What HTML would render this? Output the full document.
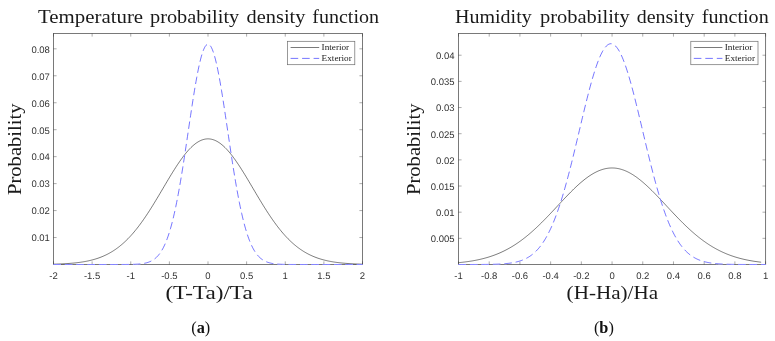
<!DOCTYPE html>
<html><head><meta charset="utf-8"><title>Probability density functions</title>
<style>
html,body{margin:0;padding:0;background:#fff;}
svg{display:block;}
</style></head>
<body>
<svg width="775" height="341" viewBox="0 0 775 341">
<rect width="775" height="341" fill="#fff"/>
<path d="M53.50,264.16 L54.53,264.13 L55.57,264.10 L56.60,264.07 L57.63,264.03 L58.67,263.99 L59.70,263.95 L60.73,263.91 L61.77,263.87 L62.80,263.82 L63.83,263.76 L64.87,263.71 L65.90,263.65 L66.93,263.59 L67.97,263.52 L69.00,263.44 L70.04,263.37 L71.07,263.28 L72.10,263.20 L73.14,263.10 L74.17,263.00 L75.20,262.90 L76.24,262.79 L77.27,262.67 L78.30,262.54 L79.34,262.41 L80.37,262.27 L81.40,262.12 L82.44,261.96 L83.47,261.79 L84.50,261.61 L85.54,261.42 L86.57,261.23 L87.60,261.02 L88.64,260.80 L89.67,260.57 L90.70,260.32 L91.74,260.06 L92.77,259.79 L93.80,259.51 L94.84,259.21 L95.87,258.90 L96.90,258.57 L97.94,258.22 L98.97,257.86 L100.01,257.48 L101.04,257.09 L102.07,256.67 L103.11,256.24 L104.14,255.78 L105.17,255.31 L106.21,254.82 L107.24,254.30 L108.27,253.77 L109.31,253.21 L110.34,252.63 L111.37,252.02 L112.41,251.40 L113.44,250.74 L114.47,250.06 L115.51,249.36 L116.54,248.63 L117.57,247.88 L118.61,247.10 L119.64,246.29 L120.67,245.45 L121.71,244.59 L122.74,243.69 L123.77,242.77 L124.81,241.82 L125.84,240.84 L126.87,239.83 L127.91,238.80 L128.94,237.73 L129.97,236.63 L131.01,235.51 L132.04,234.35 L133.08,233.16 L134.11,231.95 L135.14,230.70 L136.18,229.43 L137.21,228.13 L138.24,226.80 L139.28,225.44 L140.31,224.05 L141.34,222.64 L142.38,221.20 L143.41,219.74 L144.44,218.24 L145.48,216.73 L146.51,215.19 L147.54,213.63 L148.58,212.05 L149.61,210.44 L150.64,208.82 L151.68,207.18 L152.71,205.52 L153.74,203.84 L154.78,202.15 L155.81,200.45 L156.84,198.74 L157.88,197.01 L158.91,195.28 L159.94,193.54 L160.98,191.79 L162.01,190.04 L163.05,188.29 L164.08,186.54 L165.11,184.79 L166.15,183.05 L167.18,181.31 L168.21,179.57 L169.25,177.85 L170.28,176.14 L171.31,174.44 L172.35,172.76 L173.38,171.10 L174.41,169.46 L175.45,167.84 L176.48,166.24 L177.51,164.67 L178.55,163.13 L179.58,161.62 L180.61,160.14 L181.65,158.70 L182.68,157.29 L183.71,155.92 L184.75,154.59 L185.78,153.31 L186.81,152.07 L187.85,150.87 L188.88,149.73 L189.91,148.63 L190.95,147.59 L191.98,146.59 L193.02,145.65 L194.05,144.77 L195.08,143.95 L196.12,143.18 L197.15,142.47 L198.18,141.83 L199.22,141.24 L200.25,140.72 L201.28,140.26 L202.32,139.87 L203.35,139.54 L204.38,139.27 L205.42,139.07 L206.45,138.94 L207.48,138.87 L208.52,138.87 L209.55,138.94 L210.58,139.07 L211.62,139.27 L212.65,139.54 L213.68,139.87 L214.72,140.26 L215.75,140.72 L216.78,141.24 L217.82,141.83 L218.85,142.47 L219.88,143.18 L220.92,143.95 L221.95,144.77 L222.98,145.65 L224.02,146.59 L225.05,147.59 L226.09,148.63 L227.12,149.73 L228.15,150.87 L229.19,152.07 L230.22,153.31 L231.25,154.59 L232.29,155.92 L233.32,157.29 L234.35,158.70 L235.39,160.14 L236.42,161.62 L237.45,163.13 L238.49,164.67 L239.52,166.24 L240.55,167.84 L241.59,169.46 L242.62,171.10 L243.65,172.76 L244.69,174.44 L245.72,176.14 L246.75,177.85 L247.79,179.57 L248.82,181.31 L249.85,183.05 L250.89,184.79 L251.92,186.54 L252.95,188.29 L253.99,190.04 L255.02,191.79 L256.06,193.54 L257.09,195.28 L258.12,197.01 L259.16,198.74 L260.19,200.45 L261.22,202.15 L262.26,203.84 L263.29,205.52 L264.32,207.18 L265.36,208.82 L266.39,210.44 L267.42,212.05 L268.46,213.63 L269.49,215.19 L270.52,216.73 L271.56,218.24 L272.59,219.74 L273.62,221.20 L274.66,222.64 L275.69,224.05 L276.72,225.44 L277.76,226.80 L278.79,228.13 L279.82,229.43 L280.86,230.70 L281.89,231.95 L282.92,233.16 L283.96,234.35 L284.99,235.51 L286.03,236.63 L287.06,237.73 L288.09,238.80 L289.13,239.83 L290.16,240.84 L291.19,241.82 L292.23,242.77 L293.26,243.69 L294.29,244.59 L295.33,245.45 L296.36,246.29 L297.39,247.10 L298.43,247.88 L299.46,248.63 L300.49,249.36 L301.53,250.06 L302.56,250.74 L303.59,251.40 L304.63,252.02 L305.66,252.63 L306.69,253.21 L307.73,253.77 L308.76,254.30 L309.79,254.82 L310.83,255.31 L311.86,255.78 L312.89,256.24 L313.93,256.67 L314.96,257.09 L315.99,257.48 L317.03,257.86 L318.06,258.22 L319.10,258.57 L320.13,258.90 L321.16,259.21 L322.20,259.51 L323.23,259.79 L324.26,260.06 L325.30,260.32 L326.33,260.57 L327.36,260.80 L328.40,261.02 L329.43,261.23 L330.46,261.42 L331.50,261.61 L332.53,261.79 L333.56,261.96 L334.60,262.12 L335.63,262.27 L336.66,262.41 L337.70,262.54 L338.73,262.67 L339.76,262.79 L340.80,262.90 L341.83,263.00 L342.86,263.10 L343.90,263.20 L344.93,263.28 L345.96,263.37 L347.00,263.44 L348.03,263.52 L349.07,263.59 L350.10,263.65 L351.13,263.71 L352.17,263.76 L353.20,263.82 L354.23,263.87 L355.27,263.91 L356.30,263.95 L357.33,263.99 L358.37,264.03 L359.40,264.07 L360.43,264.10 L361.47,264.13 L362.50,264.16" fill="none" stroke="#000" stroke-width="0.7" stroke-opacity="0.75"/>
<rect x="53.5" y="33.5" width="309.00" height="231.00" fill="none" stroke="#262626" stroke-width="0.85" stroke-opacity="0.72"/>
<path d="M53.50,264.5 v-3.1 M53.50,33.5 v3.1 M92.12,264.5 v-3.1 M92.12,33.5 v3.1 M130.75,264.5 v-3.1 M130.75,33.5 v3.1 M169.38,264.5 v-3.1 M169.38,33.5 v3.1 M208.00,264.5 v-3.1 M208.00,33.5 v3.1 M246.62,264.5 v-3.1 M246.62,33.5 v3.1 M285.25,264.5 v-3.1 M285.25,33.5 v3.1 M323.88,264.5 v-3.1 M323.88,33.5 v3.1 M362.50,264.5 v-3.1 M362.50,33.5 v3.1 M53.5,237.54 h3.1 M362.5,237.54 h-3.1 M53.5,210.58 h3.1 M362.5,210.58 h-3.1 M53.5,183.62 h3.1 M362.5,183.62 h-3.1 M53.5,156.66 h3.1 M362.5,156.66 h-3.1 M53.5,129.70 h3.1 M362.5,129.70 h-3.1 M53.5,102.74 h3.1 M362.5,102.74 h-3.1 M53.5,75.78 h3.1 M362.5,75.78 h-3.1 M53.5,48.82 h3.1 M362.5,48.82 h-3.1" fill="none" stroke="#262626" stroke-width="0.7" stroke-opacity="0.55"/>
<path d="M53.50,264.50 L54.27,264.50 L55.05,264.50 L55.82,264.50 L56.60,264.50 L57.37,264.50 L58.15,264.50 L58.92,264.50 L59.70,264.50 L60.47,264.50 L61.24,264.50 L62.02,264.50 L62.79,264.50 L63.57,264.50 L64.34,264.50 L65.12,264.50 L65.89,264.50 L66.67,264.50 L67.44,264.50 L68.21,264.50 L68.99,264.50 L69.76,264.50 L70.54,264.50 L71.31,264.50 L72.09,264.50 L72.86,264.50 L73.64,264.50 L74.41,264.50 L75.18,264.50 L75.96,264.50 L76.73,264.50 L77.51,264.50 L78.28,264.50 L79.06,264.50 L79.83,264.50 L80.61,264.50 L81.38,264.50 L82.15,264.50 L82.93,264.50 L83.70,264.50 L84.48,264.50 L85.25,264.50 L86.03,264.50 L86.80,264.50 L87.58,264.50 L88.35,264.50 L89.12,264.50 L89.90,264.50 L90.67,264.50 L91.45,264.50 L92.22,264.50 L93.00,264.50 L93.77,264.50 L94.55,264.50 L95.32,264.50 L96.09,264.50 L96.87,264.50 L97.64,264.50 L98.42,264.50 L99.19,264.50 L99.97,264.50 L100.74,264.50 L101.52,264.50 L102.29,264.50 L103.06,264.50 L103.84,264.50 L104.61,264.50 L105.39,264.50 L106.16,264.50 L106.94,264.50 L107.71,264.50 L108.48,264.50 L109.26,264.50 L110.03,264.50 L110.81,264.50 L111.58,264.50 L112.36,264.50 L113.13,264.50 L113.91,264.50 L114.68,264.50 L115.45,264.50 L116.23,264.50 L117.00,264.49 L117.78,264.49 L118.55,264.49 L119.33,264.49 L120.10,264.49 L120.88,264.49 L121.65,264.49 L122.42,264.48 L123.20,264.48 L123.97,264.48 L124.75,264.47 L125.52,264.47 L126.30,264.46 L127.07,264.45 L127.85,264.44 L128.62,264.43 L129.39,264.42 L130.17,264.41 L130.94,264.40 L131.72,264.38 L132.49,264.36 L133.27,264.33 L134.04,264.31 L134.82,264.28 L135.59,264.24 L136.36,264.20 L137.14,264.16 L137.91,264.11 L138.69,264.05 L139.46,263.98 L140.24,263.91 L141.01,263.82 L141.79,263.72 L142.56,263.62 L143.33,263.49 L144.11,263.36 L144.88,263.20 L145.66,263.03 L146.43,262.83 L147.21,262.62 L147.98,262.38 L148.76,262.11 L149.53,261.81 L150.30,261.48 L151.08,261.11 L151.85,260.71 L152.63,260.26 L153.40,259.77 L154.18,259.23 L154.95,258.64 L155.73,257.99 L156.50,257.28 L157.27,256.50 L158.05,255.66 L158.82,254.74 L159.60,253.74 L160.37,252.65 L161.15,251.48 L161.92,250.22 L162.70,248.86 L163.47,247.39 L164.24,245.81 L165.02,244.12 L165.79,242.31 L166.57,240.38 L167.34,238.32 L168.12,236.13 L168.89,233.81 L169.67,231.34 L170.44,228.73 L171.21,225.98 L171.99,223.08 L172.76,220.02 L173.54,216.82 L174.31,213.47 L175.09,209.96 L175.86,206.30 L176.64,202.49 L177.41,198.54 L178.18,194.44 L178.96,190.20 L179.73,185.83 L180.51,181.33 L181.28,176.70 L182.06,171.97 L182.83,167.13 L183.61,162.19 L184.38,157.17 L185.15,152.07 L185.93,146.92 L186.70,141.72 L187.48,136.49 L188.25,131.24 L189.03,125.99 L189.80,120.75 L190.58,115.55 L191.35,110.40 L192.12,105.32 L192.90,100.32 L193.67,95.43 L194.45,90.66 L195.22,86.03 L196.00,81.56 L196.77,77.27 L197.55,73.17 L198.32,69.29 L199.09,65.64 L199.87,62.23 L200.64,59.08 L201.42,56.20 L202.19,53.61 L202.97,51.31 L203.74,49.33 L204.52,47.66 L205.29,46.31 L206.06,45.30 L206.84,44.62 L207.61,44.28 L208.39,44.28 L209.16,44.62 L209.94,45.30 L210.71,46.31 L211.48,47.66 L212.26,49.33 L213.03,51.31 L213.81,53.61 L214.58,56.20 L215.36,59.08 L216.13,62.23 L216.91,65.64 L217.68,69.29 L218.45,73.17 L219.23,77.27 L220.00,81.56 L220.78,86.03 L221.55,90.66 L222.33,95.43 L223.10,100.32 L223.88,105.32 L224.65,110.40 L225.42,115.55 L226.20,120.75 L226.97,125.99 L227.75,131.24 L228.52,136.49 L229.30,141.72 L230.07,146.92 L230.85,152.07 L231.62,157.17 L232.39,162.19 L233.17,167.13 L233.94,171.97 L234.72,176.70 L235.49,181.33 L236.27,185.83 L237.04,190.20 L237.82,194.44 L238.59,198.54 L239.36,202.49 L240.14,206.30 L240.91,209.96 L241.69,213.47 L242.46,216.82 L243.24,220.02 L244.01,223.08 L244.79,225.98 L245.56,228.73 L246.33,231.34 L247.11,233.81 L247.88,236.13 L248.66,238.32 L249.43,240.38 L250.21,242.31 L250.98,244.12 L251.76,245.81 L252.53,247.39 L253.30,248.86 L254.08,250.22 L254.85,251.48 L255.63,252.65 L256.40,253.74 L257.18,254.74 L257.95,255.66 L258.73,256.50 L259.50,257.28 L260.27,257.99 L261.05,258.64 L261.82,259.23 L262.60,259.77 L263.37,260.26 L264.15,260.71 L264.92,261.11 L265.70,261.48 L266.47,261.81 L267.24,262.11 L268.02,262.38 L268.79,262.62 L269.57,262.83 L270.34,263.03 L271.12,263.20 L271.89,263.36 L272.67,263.49 L273.44,263.62 L274.21,263.72 L274.99,263.82 L275.76,263.91 L276.54,263.98 L277.31,264.05 L278.09,264.11 L278.86,264.16 L279.64,264.20 L280.41,264.24 L281.18,264.28 L281.96,264.31 L282.73,264.33 L283.51,264.36 L284.28,264.38 L285.06,264.40 L285.83,264.41 L286.61,264.42 L287.38,264.43 L288.15,264.44 L288.93,264.45 L289.70,264.46 L290.48,264.47 L291.25,264.47 L292.03,264.48 L292.80,264.48 L293.58,264.48 L294.35,264.49 L295.12,264.49 L295.90,264.49 L296.67,264.49 L297.45,264.49 L298.22,264.49 L299.00,264.49 L299.77,264.50 L300.55,264.50 L301.32,264.50 L302.09,264.50 L302.87,264.50 L303.64,264.50 L304.42,264.50 L305.19,264.50 L305.97,264.50 L306.74,264.50 L307.52,264.50 L308.29,264.50 L309.06,264.50 L309.84,264.50 L310.61,264.50 L311.39,264.50 L312.16,264.50 L312.94,264.50 L313.71,264.50 L314.48,264.50 L315.26,264.50 L316.03,264.50 L316.81,264.50 L317.58,264.50 L318.36,264.50 L319.13,264.50 L319.91,264.50 L320.68,264.50 L321.45,264.50 L322.23,264.50 L323.00,264.50 L323.78,264.50 L324.55,264.50 L325.33,264.50 L326.10,264.50 L326.88,264.50 L327.65,264.50 L328.42,264.50 L329.20,264.50 L329.97,264.50 L330.75,264.50 L331.52,264.50 L332.30,264.50 L333.07,264.50 L333.85,264.50 L334.62,264.50 L335.39,264.50 L336.17,264.50 L336.94,264.50 L337.72,264.50 L338.49,264.50 L339.27,264.50 L340.04,264.50 L340.82,264.50 L341.59,264.50 L342.36,264.50 L343.14,264.50 L343.91,264.50 L344.69,264.50 L345.46,264.50 L346.24,264.50 L347.01,264.50 L347.79,264.50 L348.56,264.50 L349.33,264.50 L350.11,264.50 L350.88,264.50 L351.66,264.50 L352.43,264.50 L353.21,264.50 L353.98,264.50 L354.76,264.50 L355.53,264.50 L356.30,264.50 L357.08,264.50 L357.85,264.50 L358.63,264.50 L359.40,264.50 L360.18,264.50 L360.95,264.50 L361.73,264.50 L362.50,264.50" fill="none" stroke="#fff" stroke-width="1.1" stroke-dasharray="7.47 3.88"/>
<path d="M53.50,264.50 L54.27,264.50 L55.05,264.50 L55.82,264.50 L56.60,264.50 L57.37,264.50 L58.15,264.50 L58.92,264.50 L59.70,264.50 L60.47,264.50 L61.24,264.50 L62.02,264.50 L62.79,264.50 L63.57,264.50 L64.34,264.50 L65.12,264.50 L65.89,264.50 L66.67,264.50 L67.44,264.50 L68.21,264.50 L68.99,264.50 L69.76,264.50 L70.54,264.50 L71.31,264.50 L72.09,264.50 L72.86,264.50 L73.64,264.50 L74.41,264.50 L75.18,264.50 L75.96,264.50 L76.73,264.50 L77.51,264.50 L78.28,264.50 L79.06,264.50 L79.83,264.50 L80.61,264.50 L81.38,264.50 L82.15,264.50 L82.93,264.50 L83.70,264.50 L84.48,264.50 L85.25,264.50 L86.03,264.50 L86.80,264.50 L87.58,264.50 L88.35,264.50 L89.12,264.50 L89.90,264.50 L90.67,264.50 L91.45,264.50 L92.22,264.50 L93.00,264.50 L93.77,264.50 L94.55,264.50 L95.32,264.50 L96.09,264.50 L96.87,264.50 L97.64,264.50 L98.42,264.50 L99.19,264.50 L99.97,264.50 L100.74,264.50 L101.52,264.50 L102.29,264.50 L103.06,264.50 L103.84,264.50 L104.61,264.50 L105.39,264.50 L106.16,264.50 L106.94,264.50 L107.71,264.50 L108.48,264.50 L109.26,264.50 L110.03,264.50 L110.81,264.50 L111.58,264.50 L112.36,264.50 L113.13,264.50 L113.91,264.50 L114.68,264.50 L115.45,264.50 L116.23,264.50 L117.00,264.49 L117.78,264.49 L118.55,264.49 L119.33,264.49 L120.10,264.49 L120.88,264.49 L121.65,264.49 L122.42,264.48 L123.20,264.48 L123.97,264.48 L124.75,264.47 L125.52,264.47 L126.30,264.46 L127.07,264.45 L127.85,264.44 L128.62,264.43 L129.39,264.42 L130.17,264.41 L130.94,264.40 L131.72,264.38 L132.49,264.36 L133.27,264.33 L134.04,264.31 L134.82,264.28 L135.59,264.24 L136.36,264.20 L137.14,264.16 L137.91,264.11 L138.69,264.05 L139.46,263.98 L140.24,263.91 L141.01,263.82 L141.79,263.72 L142.56,263.62 L143.33,263.49 L144.11,263.36 L144.88,263.20 L145.66,263.03 L146.43,262.83 L147.21,262.62 L147.98,262.38 L148.76,262.11 L149.53,261.81 L150.30,261.48 L151.08,261.11 L151.85,260.71 L152.63,260.26 L153.40,259.77 L154.18,259.23 L154.95,258.64 L155.73,257.99 L156.50,257.28 L157.27,256.50 L158.05,255.66 L158.82,254.74 L159.60,253.74 L160.37,252.65 L161.15,251.48 L161.92,250.22 L162.70,248.86 L163.47,247.39 L164.24,245.81 L165.02,244.12 L165.79,242.31 L166.57,240.38 L167.34,238.32 L168.12,236.13 L168.89,233.81 L169.67,231.34 L170.44,228.73 L171.21,225.98 L171.99,223.08 L172.76,220.02 L173.54,216.82 L174.31,213.47 L175.09,209.96 L175.86,206.30 L176.64,202.49 L177.41,198.54 L178.18,194.44 L178.96,190.20 L179.73,185.83 L180.51,181.33 L181.28,176.70 L182.06,171.97 L182.83,167.13 L183.61,162.19 L184.38,157.17 L185.15,152.07 L185.93,146.92 L186.70,141.72 L187.48,136.49 L188.25,131.24 L189.03,125.99 L189.80,120.75 L190.58,115.55 L191.35,110.40 L192.12,105.32 L192.90,100.32 L193.67,95.43 L194.45,90.66 L195.22,86.03 L196.00,81.56 L196.77,77.27 L197.55,73.17 L198.32,69.29 L199.09,65.64 L199.87,62.23 L200.64,59.08 L201.42,56.20 L202.19,53.61 L202.97,51.31 L203.74,49.33 L204.52,47.66 L205.29,46.31 L206.06,45.30 L206.84,44.62 L207.61,44.28 L208.39,44.28 L209.16,44.62 L209.94,45.30 L210.71,46.31 L211.48,47.66 L212.26,49.33 L213.03,51.31 L213.81,53.61 L214.58,56.20 L215.36,59.08 L216.13,62.23 L216.91,65.64 L217.68,69.29 L218.45,73.17 L219.23,77.27 L220.00,81.56 L220.78,86.03 L221.55,90.66 L222.33,95.43 L223.10,100.32 L223.88,105.32 L224.65,110.40 L225.42,115.55 L226.20,120.75 L226.97,125.99 L227.75,131.24 L228.52,136.49 L229.30,141.72 L230.07,146.92 L230.85,152.07 L231.62,157.17 L232.39,162.19 L233.17,167.13 L233.94,171.97 L234.72,176.70 L235.49,181.33 L236.27,185.83 L237.04,190.20 L237.82,194.44 L238.59,198.54 L239.36,202.49 L240.14,206.30 L240.91,209.96 L241.69,213.47 L242.46,216.82 L243.24,220.02 L244.01,223.08 L244.79,225.98 L245.56,228.73 L246.33,231.34 L247.11,233.81 L247.88,236.13 L248.66,238.32 L249.43,240.38 L250.21,242.31 L250.98,244.12 L251.76,245.81 L252.53,247.39 L253.30,248.86 L254.08,250.22 L254.85,251.48 L255.63,252.65 L256.40,253.74 L257.18,254.74 L257.95,255.66 L258.73,256.50 L259.50,257.28 L260.27,257.99 L261.05,258.64 L261.82,259.23 L262.60,259.77 L263.37,260.26 L264.15,260.71 L264.92,261.11 L265.70,261.48 L266.47,261.81 L267.24,262.11 L268.02,262.38 L268.79,262.62 L269.57,262.83 L270.34,263.03 L271.12,263.20 L271.89,263.36 L272.67,263.49 L273.44,263.62 L274.21,263.72 L274.99,263.82 L275.76,263.91 L276.54,263.98 L277.31,264.05 L278.09,264.11 L278.86,264.16 L279.64,264.20 L280.41,264.24 L281.18,264.28 L281.96,264.31 L282.73,264.33 L283.51,264.36 L284.28,264.38 L285.06,264.40 L285.83,264.41 L286.61,264.42 L287.38,264.43 L288.15,264.44 L288.93,264.45 L289.70,264.46 L290.48,264.47 L291.25,264.47 L292.03,264.48 L292.80,264.48 L293.58,264.48 L294.35,264.49 L295.12,264.49 L295.90,264.49 L296.67,264.49 L297.45,264.49 L298.22,264.49 L299.00,264.49 L299.77,264.50 L300.55,264.50 L301.32,264.50 L302.09,264.50 L302.87,264.50 L303.64,264.50 L304.42,264.50 L305.19,264.50 L305.97,264.50 L306.74,264.50 L307.52,264.50 L308.29,264.50 L309.06,264.50 L309.84,264.50 L310.61,264.50 L311.39,264.50 L312.16,264.50 L312.94,264.50 L313.71,264.50 L314.48,264.50 L315.26,264.50 L316.03,264.50 L316.81,264.50 L317.58,264.50 L318.36,264.50 L319.13,264.50 L319.91,264.50 L320.68,264.50 L321.45,264.50 L322.23,264.50 L323.00,264.50 L323.78,264.50 L324.55,264.50 L325.33,264.50 L326.10,264.50 L326.88,264.50 L327.65,264.50 L328.42,264.50 L329.20,264.50 L329.97,264.50 L330.75,264.50 L331.52,264.50 L332.30,264.50 L333.07,264.50 L333.85,264.50 L334.62,264.50 L335.39,264.50 L336.17,264.50 L336.94,264.50 L337.72,264.50 L338.49,264.50 L339.27,264.50 L340.04,264.50 L340.82,264.50 L341.59,264.50 L342.36,264.50 L343.14,264.50 L343.91,264.50 L344.69,264.50 L345.46,264.50 L346.24,264.50 L347.01,264.50 L347.79,264.50 L348.56,264.50 L349.33,264.50 L350.11,264.50 L350.88,264.50 L351.66,264.50 L352.43,264.50 L353.21,264.50 L353.98,264.50 L354.76,264.50 L355.53,264.50 L356.30,264.50 L357.08,264.50 L357.85,264.50 L358.63,264.50 L359.40,264.50 L360.18,264.50 L360.95,264.50 L361.73,264.50 L362.50,264.50" fill="none" stroke="#0000ff" stroke-width="0.75" stroke-opacity="0.72" stroke-dasharray="7.47 3.88"/>
<g font-family="Liberation Sans, Arial, sans-serif" font-size="9.5" fill="#333" style="text-rendering:geometricPrecision">
<text x="53.50" y="279.3" text-anchor="middle">-2</text>
<text x="92.12" y="279.3" text-anchor="middle">-1.5</text>
<text x="130.75" y="279.3" text-anchor="middle">-1</text>
<text x="169.38" y="279.3" text-anchor="middle">-0.5</text>
<text x="208.00" y="279.3" text-anchor="middle">0</text>
<text x="246.62" y="279.3" text-anchor="middle">0.5</text>
<text x="285.25" y="279.3" text-anchor="middle">1</text>
<text x="323.88" y="279.3" text-anchor="middle">1.5</text>
<text x="362.50" y="279.3" text-anchor="middle">2</text>
<text x="49.9" y="241.34" text-anchor="end">0.01</text>
<text x="49.9" y="214.38" text-anchor="end">0.02</text>
<text x="49.9" y="187.42" text-anchor="end">0.03</text>
<text x="49.9" y="160.46" text-anchor="end">0.04</text>
<text x="49.9" y="133.50" text-anchor="end">0.05</text>
<text x="49.9" y="106.54" text-anchor="end">0.06</text>
<text x="49.9" y="79.58" text-anchor="end">0.07</text>
<text x="49.9" y="52.62" text-anchor="end">0.08</text>
</g>
<g font-family="Liberation Serif, Times New Roman, serif" fill="#1a1a1a">
<text x="38.1" y="23.2" font-size="19" textLength="105.0" lengthAdjust="spacingAndGlyphs">Temperature</text>
<text x="150" y="23.2" font-size="19" textLength="89.2" lengthAdjust="spacingAndGlyphs">probability</text>
<text x="246.6" y="23.2" font-size="19" textLength="58.8" lengthAdjust="spacingAndGlyphs">density</text>
<text x="312.3" y="23.2" font-size="19" textLength="66.7" lengthAdjust="spacingAndGlyphs">function</text>
<text x="165.4" y="298.5" font-size="18.3" textLength="87.3" lengthAdjust="spacingAndGlyphs">(T-Ta)/Ta</text>
<text transform="translate(21.2,195) rotate(-90)" font-size="18.3" textLength="91.5" lengthAdjust="spacingAndGlyphs">Probability</text>
<rect x="287.6" y="41.3" width="67.20" height="23.4" fill="#fff" stroke="#262626" stroke-width="0.7" stroke-opacity="0.68"/>
<path d="M290.60,47.5 h28.6" stroke="#000" stroke-width="0.7" stroke-opacity="0.75"/>
<path d="M290.60,58.4 h28.6" stroke="#0000ff" stroke-width="0.75" stroke-opacity="0.72" stroke-dasharray="7.6 3.9"/>
<text x="321.60" y="49.9" font-size="8.4" textLength="27.6" lengthAdjust="spacingAndGlyphs">Interior</text>
<text x="321.60" y="60.7" font-size="8.4" textLength="30.2" lengthAdjust="spacingAndGlyphs">Exterior</text>
<text x="200.80" y="332.7" font-size="16.3" text-anchor="middle" fill="#111">(<tspan font-weight="bold">a</tspan>)</text>
</g>
<path d="M458.50,262.67 L459.51,262.58 L460.52,262.47 L461.54,262.37 L462.55,262.25 L463.56,262.14 L464.57,262.02 L465.59,261.89 L466.60,261.75 L467.61,261.62 L468.62,261.47 L469.63,261.32 L470.65,261.16 L471.66,261.00 L472.67,260.83 L473.68,260.65 L474.70,260.46 L475.71,260.27 L476.72,260.07 L477.73,259.86 L478.74,259.65 L479.76,259.42 L480.77,259.19 L481.78,258.95 L482.79,258.70 L483.80,258.44 L484.82,258.17 L485.83,257.89 L486.84,257.60 L487.85,257.30 L488.87,256.99 L489.88,256.67 L490.89,256.34 L491.90,255.99 L492.91,255.64 L493.93,255.27 L494.94,254.90 L495.95,254.51 L496.96,254.11 L497.98,253.69 L498.99,253.27 L500.00,252.83 L501.01,252.38 L502.02,251.91 L503.04,251.43 L504.05,250.94 L505.06,250.43 L506.07,249.92 L507.09,249.38 L508.10,248.83 L509.11,248.27 L510.12,247.70 L511.13,247.11 L512.15,246.50 L513.16,245.88 L514.17,245.25 L515.18,244.60 L516.20,243.93 L517.21,243.25 L518.22,242.56 L519.23,241.85 L520.24,241.13 L521.26,240.39 L522.27,239.64 L523.28,238.87 L524.29,238.08 L525.31,237.29 L526.32,236.48 L527.33,235.65 L528.34,234.81 L529.35,233.96 L530.37,233.09 L531.38,232.21 L532.39,231.32 L533.40,230.41 L534.41,229.49 L535.43,228.56 L536.44,227.61 L537.45,226.66 L538.46,225.69 L539.48,224.71 L540.49,223.72 L541.50,222.72 L542.51,221.72 L543.52,220.70 L544.54,219.67 L545.55,218.64 L546.56,217.59 L547.57,216.54 L548.59,215.49 L549.60,214.42 L550.61,213.36 L551.62,212.28 L552.63,211.21 L553.65,210.13 L554.66,209.04 L555.67,207.96 L556.68,206.87 L557.70,205.78 L558.71,204.70 L559.72,203.61 L560.73,202.53 L561.74,201.44 L562.76,200.37 L563.77,199.29 L564.78,198.22 L565.79,197.16 L566.81,196.10 L567.82,195.05 L568.83,194.01 L569.84,192.97 L570.85,191.95 L571.87,190.94 L572.88,189.94 L573.89,188.95 L574.90,187.97 L575.91,187.01 L576.93,186.06 L577.94,185.13 L578.95,184.22 L579.96,183.32 L580.98,182.45 L581.99,181.59 L583.00,180.75 L584.01,179.93 L585.02,179.13 L586.04,178.36 L587.05,177.61 L588.06,176.88 L589.07,176.17 L590.09,175.50 L591.10,174.84 L592.11,174.22 L593.12,173.62 L594.13,173.04 L595.15,172.50 L596.16,171.99 L597.17,171.50 L598.18,171.04 L599.20,170.62 L600.21,170.22 L601.22,169.86 L602.23,169.52 L603.24,169.22 L604.26,168.95 L605.27,168.71 L606.28,168.51 L607.29,168.34 L608.31,168.20 L609.32,168.09 L610.33,168.02 L611.34,167.98 L612.35,167.97 L613.37,168.00 L614.38,168.06 L615.39,168.15 L616.40,168.28 L617.42,168.44 L618.43,168.63 L619.44,168.85 L620.45,169.11 L621.46,169.40 L622.48,169.72 L623.49,170.07 L624.50,170.45 L625.51,170.87 L626.52,171.31 L627.54,171.79 L628.55,172.29 L629.56,172.82 L630.57,173.39 L631.59,173.97 L632.60,174.59 L633.61,175.23 L634.62,175.90 L635.63,176.59 L636.65,177.31 L637.66,178.06 L638.67,178.82 L639.68,179.61 L640.70,180.42 L641.71,181.25 L642.72,182.10 L643.73,182.97 L644.74,183.86 L645.76,184.77 L646.77,185.69 L647.78,186.63 L648.79,187.59 L649.81,188.56 L650.82,189.54 L651.83,190.54 L652.84,191.54 L653.85,192.56 L654.87,193.59 L655.88,194.63 L656.89,195.68 L657.90,196.73 L658.92,197.80 L659.93,198.86 L660.94,199.94 L661.95,201.01 L662.96,202.09 L663.98,203.18 L664.99,204.26 L666.00,205.35 L667.01,206.44 L668.02,207.52 L669.04,208.61 L670.05,209.69 L671.06,210.78 L672.07,211.85 L673.09,212.93 L674.10,214.00 L675.11,215.06 L676.12,216.12 L677.13,217.17 L678.15,218.22 L679.16,219.26 L680.17,220.29 L681.18,221.31 L682.20,222.32 L683.21,223.33 L684.22,224.32 L685.23,225.30 L686.24,226.27 L687.26,227.23 L688.27,228.18 L689.28,229.12 L690.29,230.04 L691.31,230.96 L692.32,231.85 L693.33,232.74 L694.34,233.61 L695.35,234.47 L696.37,235.32 L697.38,236.15 L698.39,236.97 L699.40,237.77 L700.42,238.56 L701.43,239.33 L702.44,240.09 L703.45,240.83 L704.46,241.56 L705.48,242.28 L706.49,242.98 L707.50,243.66 L708.51,244.33 L709.52,244.99 L710.54,245.63 L711.55,246.25 L712.56,246.87 L713.57,247.46 L714.59,248.04 L715.60,248.61 L716.61,249.16 L717.62,249.70 L718.63,250.23 L719.65,250.74 L720.66,251.24 L721.67,251.72 L722.68,252.19 L723.70,252.65 L724.71,253.09 L725.72,253.52 L726.73,253.94 L727.74,254.35 L728.76,254.74 L729.77,255.13 L730.78,255.50 L731.79,255.85 L732.81,256.20 L733.82,256.54 L734.83,256.86 L735.84,257.18 L736.85,257.48 L737.87,257.77 L738.88,258.06 L739.89,258.33 L740.90,258.59 L741.92,258.85 L742.93,259.09 L743.94,259.33 L744.95,259.56 L745.96,259.78 L746.98,259.99 L747.99,260.19 L749.00,260.39 L750.01,260.58 L751.03,260.76 L752.04,260.93 L753.05,261.10 L754.06,261.26 L755.07,261.41 L756.09,261.56 L757.10,261.70 L758.11,261.84 L759.12,261.97 L760.13,262.09 L761.15,262.21" fill="none" stroke="#000" stroke-width="0.7" stroke-opacity="0.75"/>
<rect x="458.5" y="33.5" width="307.10" height="231.00" fill="none" stroke="#262626" stroke-width="0.85" stroke-opacity="0.72"/>
<path d="M458.50,264.5 v-3.1 M458.50,33.5 v3.1 M489.21,264.5 v-3.1 M489.21,33.5 v3.1 M519.92,264.5 v-3.1 M519.92,33.5 v3.1 M550.63,264.5 v-3.1 M550.63,33.5 v3.1 M581.34,264.5 v-3.1 M581.34,33.5 v3.1 M612.05,264.5 v-3.1 M612.05,33.5 v3.1 M642.76,264.5 v-3.1 M642.76,33.5 v3.1 M673.47,264.5 v-3.1 M673.47,33.5 v3.1 M704.18,264.5 v-3.1 M704.18,33.5 v3.1 M734.89,264.5 v-3.1 M734.89,33.5 v3.1 M765.60,264.5 v-3.1 M765.60,33.5 v3.1 M458.5,238.34 h3.1 M765.6,238.34 h-3.1 M458.5,212.18 h3.1 M765.6,212.18 h-3.1 M458.5,186.02 h3.1 M765.6,186.02 h-3.1 M458.5,159.86 h3.1 M765.6,159.86 h-3.1 M458.5,133.70 h3.1 M765.6,133.70 h-3.1 M458.5,107.54 h3.1 M765.6,107.54 h-3.1 M458.5,81.38 h3.1 M765.6,81.38 h-3.1 M458.5,55.22 h3.1 M765.6,55.22 h-3.1" fill="none" stroke="#262626" stroke-width="0.7" stroke-opacity="0.55"/>
<path d="M458.50,264.50 L459.27,264.50 L460.04,264.50 L460.81,264.50 L461.58,264.50 L462.35,264.50 L463.12,264.50 L463.89,264.50 L464.66,264.50 L465.43,264.49 L466.20,264.49 L466.97,264.49 L467.74,264.49 L468.51,264.49 L469.28,264.49 L470.05,264.49 L470.81,264.49 L471.58,264.49 L472.35,264.49 L473.12,264.48 L473.89,264.48 L474.66,264.48 L475.43,264.48 L476.20,264.47 L476.97,264.47 L477.74,264.47 L478.51,264.47 L479.28,264.46 L480.05,264.46 L480.82,264.45 L481.59,264.45 L482.36,264.44 L483.13,264.44 L483.90,264.43 L484.67,264.42 L485.44,264.42 L486.21,264.41 L486.98,264.40 L487.75,264.39 L488.52,264.38 L489.29,264.37 L490.06,264.35 L490.83,264.34 L491.60,264.32 L492.37,264.30 L493.14,264.29 L493.91,264.27 L494.67,264.24 L495.44,264.22 L496.21,264.19 L496.98,264.17 L497.75,264.14 L498.52,264.10 L499.29,264.07 L500.06,264.03 L500.83,263.99 L501.60,263.94 L502.37,263.89 L503.14,263.84 L503.91,263.78 L504.68,263.72 L505.45,263.65 L506.22,263.58 L506.99,263.51 L507.76,263.42 L508.53,263.34 L509.30,263.24 L510.07,263.14 L510.84,263.03 L511.61,262.91 L512.38,262.79 L513.15,262.65 L513.92,262.51 L514.69,262.35 L515.46,262.19 L516.23,262.01 L517.00,261.83 L517.76,261.63 L518.53,261.41 L519.30,261.19 L520.07,260.95 L520.84,260.69 L521.61,260.42 L522.38,260.13 L523.15,259.82 L523.92,259.50 L524.69,259.15 L525.46,258.79 L526.23,258.40 L527.00,257.99 L527.77,257.56 L528.54,257.10 L529.31,256.62 L530.08,256.11 L530.85,255.57 L531.62,255.01 L532.39,254.42 L533.16,253.79 L533.93,253.13 L534.70,252.44 L535.47,251.72 L536.24,250.96 L537.01,250.16 L537.78,249.33 L538.55,248.45 L539.32,247.54 L540.09,246.58 L540.86,245.58 L541.62,244.54 L542.39,243.45 L543.16,242.32 L543.93,241.14 L544.70,239.91 L545.47,238.63 L546.24,237.30 L547.01,235.92 L547.78,234.49 L548.55,233.00 L549.32,231.46 L550.09,229.87 L550.86,228.22 L551.63,226.51 L552.40,224.75 L553.17,222.93 L553.94,221.05 L554.71,219.12 L555.48,217.12 L556.25,215.07 L557.02,212.96 L557.79,210.79 L558.56,208.57 L559.33,206.28 L560.10,203.94 L560.87,201.54 L561.64,199.09 L562.41,196.58 L563.18,194.01 L563.95,191.39 L564.72,188.72 L565.48,186.00 L566.25,183.23 L567.02,180.41 L567.79,177.54 L568.56,174.63 L569.33,171.68 L570.10,168.69 L570.87,165.66 L571.64,162.59 L572.41,159.49 L573.18,156.36 L573.95,153.20 L574.72,150.02 L575.49,146.82 L576.26,143.60 L577.03,140.36 L577.80,137.12 L578.57,133.86 L579.34,130.61 L580.11,127.35 L580.88,124.09 L581.65,120.85 L582.42,117.61 L583.19,114.39 L583.96,111.20 L584.73,108.02 L585.50,104.88 L586.27,101.77 L587.04,98.69 L587.81,95.66 L588.57,92.68 L589.34,89.74 L590.11,86.86 L590.88,84.04 L591.65,81.29 L592.42,78.60 L593.19,75.98 L593.96,73.44 L594.73,70.98 L595.50,68.61 L596.27,66.32 L597.04,64.12 L597.81,62.03 L598.58,60.03 L599.35,58.13 L600.12,56.34 L600.89,54.65 L601.66,53.08 L602.43,51.62 L603.20,50.28 L603.97,49.06 L604.74,47.96 L605.51,46.98 L606.28,46.13 L607.05,45.41 L607.82,44.81 L608.59,44.34 L609.36,44.00 L610.13,43.79 L610.90,43.71 L611.67,43.76 L612.43,43.94 L613.20,44.26 L613.97,44.70 L614.74,45.27 L615.51,45.97 L616.28,46.80 L617.05,47.75 L617.82,48.82 L618.59,50.02 L619.36,51.34 L620.13,52.77 L620.90,54.32 L621.67,55.98 L622.44,57.75 L623.21,59.62 L623.98,61.60 L624.75,63.68 L625.52,65.86 L626.29,68.13 L627.06,70.48 L627.83,72.93 L628.60,75.45 L629.37,78.05 L630.14,80.72 L630.91,83.47 L631.68,86.27 L632.45,89.14 L633.22,92.07 L633.99,95.04 L634.76,98.06 L635.53,101.13 L636.29,104.23 L637.06,107.37 L637.83,110.54 L638.60,113.73 L639.37,116.95 L640.14,120.18 L640.91,123.42 L641.68,126.67 L642.45,129.93 L643.22,133.19 L643.99,136.44 L644.76,139.69 L645.53,142.93 L646.30,146.15 L647.07,149.36 L647.84,152.55 L648.61,155.71 L649.38,158.85 L650.15,161.95 L650.92,165.03 L651.69,168.06 L652.46,171.06 L653.23,174.03 L654.00,176.95 L654.77,179.82 L655.54,182.65 L656.31,185.43 L657.08,188.16 L657.85,190.85 L658.62,193.47 L659.38,196.05 L660.15,198.57 L660.92,201.04 L661.69,203.45 L662.46,205.80 L663.23,208.10 L664.00,210.34 L664.77,212.52 L665.54,214.64 L666.31,216.70 L667.08,218.71 L667.85,220.66 L668.62,222.55 L669.39,224.38 L670.16,226.15 L670.93,227.87 L671.70,229.53 L672.47,231.14 L673.24,232.69 L674.01,234.18 L674.78,235.63 L675.55,237.02 L676.32,238.36 L677.09,239.65 L677.86,240.89 L678.63,242.08 L679.40,243.22 L680.17,244.32 L680.94,245.37 L681.71,246.38 L682.48,247.34 L683.24,248.27 L684.01,249.15 L684.78,249.99 L685.55,250.80 L686.32,251.56 L687.09,252.30 L687.86,252.99 L688.63,253.66 L689.40,254.29 L690.17,254.89 L690.94,255.46 L691.71,256.00 L692.48,256.52 L693.25,257.00 L694.02,257.47 L694.79,257.90 L695.56,258.32 L696.33,258.71 L697.10,259.08 L697.87,259.43 L698.64,259.76 L699.41,260.07 L700.18,260.36 L700.95,260.64 L701.72,260.89 L702.49,261.14 L703.26,261.37 L704.03,261.58 L704.80,261.79 L705.57,261.98 L706.34,262.15 L707.10,262.32 L707.87,262.48 L708.64,262.62 L709.41,262.76 L710.18,262.89 L710.95,263.01 L711.72,263.12 L712.49,263.22 L713.26,263.32 L714.03,263.41 L714.80,263.49 L715.57,263.57 L716.34,263.64 L717.11,263.71 L717.88,263.77 L718.65,263.83 L719.42,263.88 L720.19,263.93 L720.96,263.98 L721.73,264.02 L722.50,264.06 L723.27,264.10 L724.04,264.13 L724.81,264.16 L725.58,264.19 L726.35,264.21 L727.12,264.24 L727.89,264.26 L728.66,264.28 L729.43,264.30 L730.19,264.32 L730.96,264.33 L731.73,264.35 L732.50,264.36 L733.27,264.37 L734.04,264.39 L734.81,264.40 L735.58,264.41 L736.35,264.41 L737.12,264.42 L737.89,264.43 L738.66,264.44 L739.43,264.44 L740.20,264.45 L740.97,264.45 L741.74,264.46 L742.51,264.46 L743.28,264.46 L744.05,264.47 L744.82,264.47 L745.59,264.47 L746.36,264.48 L747.13,264.48 L747.90,264.48 L748.67,264.48 L749.44,264.48 L750.21,264.49 L750.98,264.49 L751.75,264.49 L752.52,264.49 L753.29,264.49 L754.05,264.49 L754.82,264.49 L755.59,264.49 L756.36,264.49 L757.13,264.49 L757.90,264.50 L758.67,264.50 L759.44,264.50 L760.21,264.50 L760.98,264.50 L761.75,264.50 L762.52,264.50 L763.29,264.50 L764.06,264.50 L764.83,264.50 L765.60,264.50" fill="none" stroke="#fff" stroke-width="1.1" stroke-dasharray="7.55 3.9"/>
<path d="M458.50,264.50 L459.27,264.50 L460.04,264.50 L460.81,264.50 L461.58,264.50 L462.35,264.50 L463.12,264.50 L463.89,264.50 L464.66,264.50 L465.43,264.49 L466.20,264.49 L466.97,264.49 L467.74,264.49 L468.51,264.49 L469.28,264.49 L470.05,264.49 L470.81,264.49 L471.58,264.49 L472.35,264.49 L473.12,264.48 L473.89,264.48 L474.66,264.48 L475.43,264.48 L476.20,264.47 L476.97,264.47 L477.74,264.47 L478.51,264.47 L479.28,264.46 L480.05,264.46 L480.82,264.45 L481.59,264.45 L482.36,264.44 L483.13,264.44 L483.90,264.43 L484.67,264.42 L485.44,264.42 L486.21,264.41 L486.98,264.40 L487.75,264.39 L488.52,264.38 L489.29,264.37 L490.06,264.35 L490.83,264.34 L491.60,264.32 L492.37,264.30 L493.14,264.29 L493.91,264.27 L494.67,264.24 L495.44,264.22 L496.21,264.19 L496.98,264.17 L497.75,264.14 L498.52,264.10 L499.29,264.07 L500.06,264.03 L500.83,263.99 L501.60,263.94 L502.37,263.89 L503.14,263.84 L503.91,263.78 L504.68,263.72 L505.45,263.65 L506.22,263.58 L506.99,263.51 L507.76,263.42 L508.53,263.34 L509.30,263.24 L510.07,263.14 L510.84,263.03 L511.61,262.91 L512.38,262.79 L513.15,262.65 L513.92,262.51 L514.69,262.35 L515.46,262.19 L516.23,262.01 L517.00,261.83 L517.76,261.63 L518.53,261.41 L519.30,261.19 L520.07,260.95 L520.84,260.69 L521.61,260.42 L522.38,260.13 L523.15,259.82 L523.92,259.50 L524.69,259.15 L525.46,258.79 L526.23,258.40 L527.00,257.99 L527.77,257.56 L528.54,257.10 L529.31,256.62 L530.08,256.11 L530.85,255.57 L531.62,255.01 L532.39,254.42 L533.16,253.79 L533.93,253.13 L534.70,252.44 L535.47,251.72 L536.24,250.96 L537.01,250.16 L537.78,249.33 L538.55,248.45 L539.32,247.54 L540.09,246.58 L540.86,245.58 L541.62,244.54 L542.39,243.45 L543.16,242.32 L543.93,241.14 L544.70,239.91 L545.47,238.63 L546.24,237.30 L547.01,235.92 L547.78,234.49 L548.55,233.00 L549.32,231.46 L550.09,229.87 L550.86,228.22 L551.63,226.51 L552.40,224.75 L553.17,222.93 L553.94,221.05 L554.71,219.12 L555.48,217.12 L556.25,215.07 L557.02,212.96 L557.79,210.79 L558.56,208.57 L559.33,206.28 L560.10,203.94 L560.87,201.54 L561.64,199.09 L562.41,196.58 L563.18,194.01 L563.95,191.39 L564.72,188.72 L565.48,186.00 L566.25,183.23 L567.02,180.41 L567.79,177.54 L568.56,174.63 L569.33,171.68 L570.10,168.69 L570.87,165.66 L571.64,162.59 L572.41,159.49 L573.18,156.36 L573.95,153.20 L574.72,150.02 L575.49,146.82 L576.26,143.60 L577.03,140.36 L577.80,137.12 L578.57,133.86 L579.34,130.61 L580.11,127.35 L580.88,124.09 L581.65,120.85 L582.42,117.61 L583.19,114.39 L583.96,111.20 L584.73,108.02 L585.50,104.88 L586.27,101.77 L587.04,98.69 L587.81,95.66 L588.57,92.68 L589.34,89.74 L590.11,86.86 L590.88,84.04 L591.65,81.29 L592.42,78.60 L593.19,75.98 L593.96,73.44 L594.73,70.98 L595.50,68.61 L596.27,66.32 L597.04,64.12 L597.81,62.03 L598.58,60.03 L599.35,58.13 L600.12,56.34 L600.89,54.65 L601.66,53.08 L602.43,51.62 L603.20,50.28 L603.97,49.06 L604.74,47.96 L605.51,46.98 L606.28,46.13 L607.05,45.41 L607.82,44.81 L608.59,44.34 L609.36,44.00 L610.13,43.79 L610.90,43.71 L611.67,43.76 L612.43,43.94 L613.20,44.26 L613.97,44.70 L614.74,45.27 L615.51,45.97 L616.28,46.80 L617.05,47.75 L617.82,48.82 L618.59,50.02 L619.36,51.34 L620.13,52.77 L620.90,54.32 L621.67,55.98 L622.44,57.75 L623.21,59.62 L623.98,61.60 L624.75,63.68 L625.52,65.86 L626.29,68.13 L627.06,70.48 L627.83,72.93 L628.60,75.45 L629.37,78.05 L630.14,80.72 L630.91,83.47 L631.68,86.27 L632.45,89.14 L633.22,92.07 L633.99,95.04 L634.76,98.06 L635.53,101.13 L636.29,104.23 L637.06,107.37 L637.83,110.54 L638.60,113.73 L639.37,116.95 L640.14,120.18 L640.91,123.42 L641.68,126.67 L642.45,129.93 L643.22,133.19 L643.99,136.44 L644.76,139.69 L645.53,142.93 L646.30,146.15 L647.07,149.36 L647.84,152.55 L648.61,155.71 L649.38,158.85 L650.15,161.95 L650.92,165.03 L651.69,168.06 L652.46,171.06 L653.23,174.03 L654.00,176.95 L654.77,179.82 L655.54,182.65 L656.31,185.43 L657.08,188.16 L657.85,190.85 L658.62,193.47 L659.38,196.05 L660.15,198.57 L660.92,201.04 L661.69,203.45 L662.46,205.80 L663.23,208.10 L664.00,210.34 L664.77,212.52 L665.54,214.64 L666.31,216.70 L667.08,218.71 L667.85,220.66 L668.62,222.55 L669.39,224.38 L670.16,226.15 L670.93,227.87 L671.70,229.53 L672.47,231.14 L673.24,232.69 L674.01,234.18 L674.78,235.63 L675.55,237.02 L676.32,238.36 L677.09,239.65 L677.86,240.89 L678.63,242.08 L679.40,243.22 L680.17,244.32 L680.94,245.37 L681.71,246.38 L682.48,247.34 L683.24,248.27 L684.01,249.15 L684.78,249.99 L685.55,250.80 L686.32,251.56 L687.09,252.30 L687.86,252.99 L688.63,253.66 L689.40,254.29 L690.17,254.89 L690.94,255.46 L691.71,256.00 L692.48,256.52 L693.25,257.00 L694.02,257.47 L694.79,257.90 L695.56,258.32 L696.33,258.71 L697.10,259.08 L697.87,259.43 L698.64,259.76 L699.41,260.07 L700.18,260.36 L700.95,260.64 L701.72,260.89 L702.49,261.14 L703.26,261.37 L704.03,261.58 L704.80,261.79 L705.57,261.98 L706.34,262.15 L707.10,262.32 L707.87,262.48 L708.64,262.62 L709.41,262.76 L710.18,262.89 L710.95,263.01 L711.72,263.12 L712.49,263.22 L713.26,263.32 L714.03,263.41 L714.80,263.49 L715.57,263.57 L716.34,263.64 L717.11,263.71 L717.88,263.77 L718.65,263.83 L719.42,263.88 L720.19,263.93 L720.96,263.98 L721.73,264.02 L722.50,264.06 L723.27,264.10 L724.04,264.13 L724.81,264.16 L725.58,264.19 L726.35,264.21 L727.12,264.24 L727.89,264.26 L728.66,264.28 L729.43,264.30 L730.19,264.32 L730.96,264.33 L731.73,264.35 L732.50,264.36 L733.27,264.37 L734.04,264.39 L734.81,264.40 L735.58,264.41 L736.35,264.41 L737.12,264.42 L737.89,264.43 L738.66,264.44 L739.43,264.44 L740.20,264.45 L740.97,264.45 L741.74,264.46 L742.51,264.46 L743.28,264.46 L744.05,264.47 L744.82,264.47 L745.59,264.47 L746.36,264.48 L747.13,264.48 L747.90,264.48 L748.67,264.48 L749.44,264.48 L750.21,264.49 L750.98,264.49 L751.75,264.49 L752.52,264.49 L753.29,264.49 L754.05,264.49 L754.82,264.49 L755.59,264.49 L756.36,264.49 L757.13,264.49 L757.90,264.50 L758.67,264.50 L759.44,264.50 L760.21,264.50 L760.98,264.50 L761.75,264.50 L762.52,264.50 L763.29,264.50 L764.06,264.50 L764.83,264.50 L765.60,264.50" fill="none" stroke="#0000ff" stroke-width="0.75" stroke-opacity="0.72" stroke-dasharray="7.55 3.9"/>
<g font-family="Liberation Sans, Arial, sans-serif" font-size="9.5" fill="#333" style="text-rendering:geometricPrecision">
<text x="458.50" y="279.3" text-anchor="middle">-1</text>
<text x="489.21" y="279.3" text-anchor="middle">-0.8</text>
<text x="519.92" y="279.3" text-anchor="middle">-0.6</text>
<text x="550.63" y="279.3" text-anchor="middle">-0.4</text>
<text x="581.34" y="279.3" text-anchor="middle">-0.2</text>
<text x="612.05" y="279.3" text-anchor="middle">0</text>
<text x="642.76" y="279.3" text-anchor="middle">0.2</text>
<text x="673.47" y="279.3" text-anchor="middle">0.4</text>
<text x="704.18" y="279.3" text-anchor="middle">0.6</text>
<text x="734.89" y="279.3" text-anchor="middle">0.8</text>
<text x="765.60" y="279.3" text-anchor="middle">1</text>
<text x="454.5" y="242.14" text-anchor="end">0.005</text>
<text x="454.5" y="215.98" text-anchor="end">0.01</text>
<text x="454.5" y="189.82" text-anchor="end">0.015</text>
<text x="454.5" y="163.66" text-anchor="end">0.02</text>
<text x="454.5" y="137.50" text-anchor="end">0.025</text>
<text x="454.5" y="111.34" text-anchor="end">0.03</text>
<text x="454.5" y="85.18" text-anchor="end">0.035</text>
<text x="454.5" y="59.02" text-anchor="end">0.04</text>
</g>
<g font-family="Liberation Serif, Times New Roman, serif" fill="#1a1a1a">
<text x="455.1" y="23.2" font-size="19" textLength="76.6" lengthAdjust="spacingAndGlyphs">Humidity</text>
<text x="539.9" y="23.2" font-size="19" textLength="89.9" lengthAdjust="spacingAndGlyphs">probability</text>
<text x="636.8" y="23.2" font-size="19" textLength="57.6" lengthAdjust="spacingAndGlyphs">density</text>
<text x="701.8" y="23.2" font-size="19" textLength="66.9" lengthAdjust="spacingAndGlyphs">function</text>
<text x="566.6" y="298.5" font-size="18.3" textLength="91.5" lengthAdjust="spacingAndGlyphs">(H-Ha)/Ha</text>
<text transform="translate(420,195) rotate(-90)" font-size="18.3" textLength="91.5" lengthAdjust="spacingAndGlyphs">Probability</text>
<rect x="690.8" y="41.3" width="67.20" height="23.4" fill="#fff" stroke="#262626" stroke-width="0.7" stroke-opacity="0.68"/>
<path d="M693.80,47.5 h28.6" stroke="#000" stroke-width="0.7" stroke-opacity="0.75"/>
<path d="M693.80,58.4 h28.6" stroke="#0000ff" stroke-width="0.75" stroke-opacity="0.72" stroke-dasharray="7.6 3.9"/>
<text x="724.80" y="49.9" font-size="8.4" textLength="27.6" lengthAdjust="spacingAndGlyphs">Interior</text>
<text x="724.80" y="60.7" font-size="8.4" textLength="30.2" lengthAdjust="spacingAndGlyphs">Exterior</text>
<text x="603.85" y="332.7" font-size="16.3" text-anchor="middle" fill="#111">(<tspan font-weight="bold">b</tspan>)</text>
</g>
</svg>
</body></html>
